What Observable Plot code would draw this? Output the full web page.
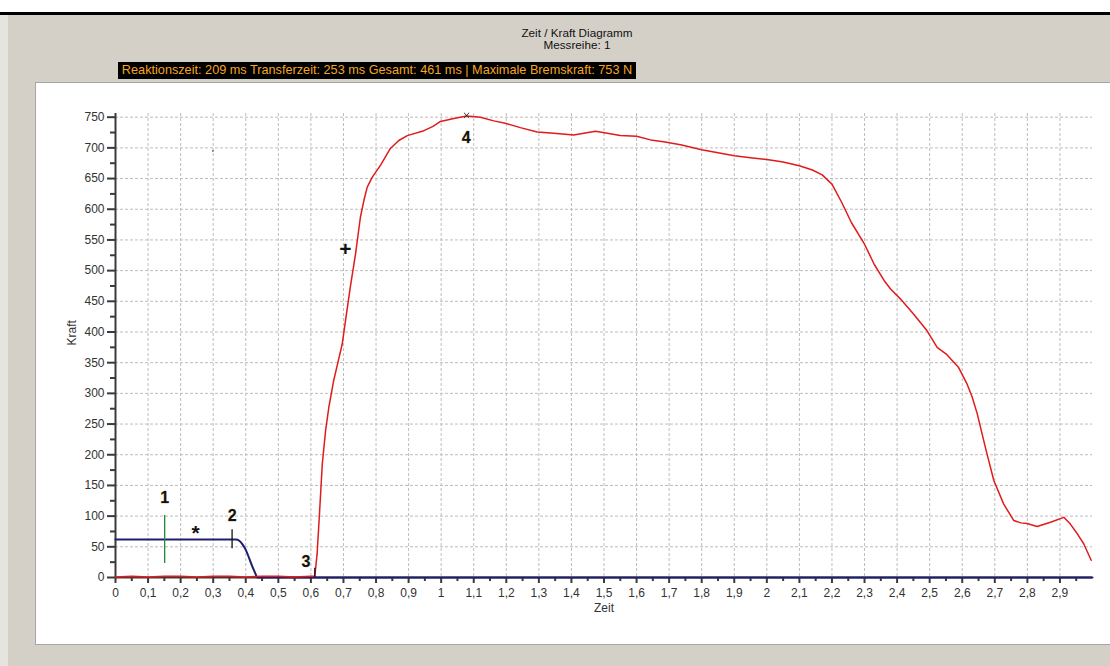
<!DOCTYPE html>
<html><head><meta charset="utf-8">
<script src="https://cdn.jsdelivr.net/npm/d3@7"></script>
<script src="https://cdn.jsdelivr.net/npm/@observablehq/plot@0.6"></script>
<style>
html,body{margin:0;padding:0;width:1110px;height:666px;overflow:hidden;background:#fff;font-family:"Liberation Sans",Arial,sans-serif;}
#bar{position:absolute;left:0;top:12px;width:1110px;height:3px;background:#000;}
#bg{position:absolute;left:8px;top:15px;width:1102px;height:651px;background:#d4d0c8;}
#strip{position:absolute;left:0;top:15px;width:8px;height:651px;background:#e6e4de;}
#title{position:absolute;left:477px;width:200px;top:27px;text-align:center;font-size:11.7px;line-height:12px;color:#111;}
#info{position:absolute;left:118px;top:62px;width:518px;height:17px;background:#000;color:#f5a623;font-size:12.7px;line-height:17px;white-space:nowrap;text-align:center;}
#panel{position:absolute;left:35px;top:82px;width:1075px;height:561px;border-top:1px solid #a6a6a6;border-left:1px solid #a6a6a6;border-bottom:1px solid #a6a6a6;background:#fff;}
#chart{position:absolute;left:36px;top:83px;}
</style></head>
<body>
<div id="bar"></div><div id="strip"></div><div id="bg"></div>
<div id="title">Zeit / Kraft Diagramm<br>Messreihe: 1</div>
<div id="info">Reaktionszeit: 209 ms Transferzeit: 253 ms Gesamt: 461 ms | Maximale Bremskraft: 753 N</div>
<div id="panel"></div>
<div id="chart"></div>
<script>
// Kraft (red) series
const kraftZeit = [0,0.05,0.10,0.15,0.20,0.25,0.30,0.35,0.40,0.45,0.50,0.55,0.60,0.612,0.619,0.627,0.635,0.645,0.655,0.67,0.685,0.696,0.708,0.721,0.737,0.752,0.763,0.773,0.788,0.814,0.844,0.87,0.896,0.947,0.975,0.998,1.039,1.078,1.12,1.162,1.197,1.243,1.295,1.346,1.407,1.438,1.474,1.51,1.55,1.60,1.643,1.683,1.735,1.80,1.85,1.90,1.95,2.00,2.05,2.10,2.14,2.17,2.20,2.23,2.26,2.30,2.33,2.36,2.38,2.41,2.451,2.492,2.523,2.553,2.589,2.615,2.630,2.646,2.671,2.697,2.727,2.758,2.78,2.799,2.83,2.871,2.912,2.932,2.955,2.973,2.996];
const kraftWert = [1,2,1,2,2,1,2,2,1,2,2,1,2,2,38,110,185,239,277,321,355,380,425,473,527,587,615,636,652,672,699,712,720,728,735,743,748,752,750,744,740,733,726,724,721,724,727,724,720,719,713,710,705,697,692,687,684,681,677,671,664,656,641,611,578,543,510,484,470,454,429,402,375,363,342,315,295,267,212,158,120,93,89,88,83,90,98,87,70,55,28];
// Blue series
const blauZeit = [0,0.37,0.38,0.39,0.40,0.41,0.42,0.43,0.435,3.0];
const blauWert = [62,62,60,54,45,32,18,6,0,0];
// Markers / annotations
const markLabel = ["1","2","3","4"];
const markX = [0.151,0.358,0.585,1.077];
const markY = [130,101,25,716];
const symLabel = ["*","+"];
const symX = [0.246,0.706];
const symY = [72,534];
const strichX = [0.151,0.358,0.612];
const strichVon = [23,47,0];
const strichBis = [101,78,15];
const strichFarbe = ["#1f8a3c","#111111","#111111"];
const peakX = [1.078], peakY = [753];
const dotX = [0.299], dotY = [695];
// Ticks
const xMajor = d3.range(0,30).map(i=>i/10);
const xMinor = d3.range(0,30).map(i=>i/10+0.05);
const yMajor = d3.range(0,16).map(i=>i*50);
const yMinor = d3.range(0,15).map(i=>i*50+25);

const kraft = kraftZeit.map((x,i)=>({x, y:kraftWert[i]}));
const blau = blauZeit.map((x,i)=>({x, y:blauWert[i]}));
const marks = markX.map((x,i)=>({x, y:markY[i], t:markLabel[i]}));
const syms = symX.map((x,i)=>({x, y:symY[i], t:symLabel[i]}));
const striche = strichX.map((x,i)=>({x, y1:strichVon[i], y2:strichBis[i], c:strichFarbe[i]}));
const fmt = d => String(Math.round(d*10)/10).replace(".",",");
const axisColor = "#3a3a3a";

const chart = Plot.plot({
  width: 1074, height: 560,
  marginLeft: 79, marginRight: 18, marginTop: 30, marginBottom: 66,
  x: {domain:[0,3], label:null},
  y: {domain:[0,756], label:null},
  style: {background:"white", fontFamily:'"Liberation Sans",Arial,sans-serif', fontSize:"12px", color:"#333"},
  marks: [
    Plot.gridX(xMajor.filter(d=>d>0), {stroke:"#bdbdbd", strokeOpacity:1, strokeDasharray:"3,2"}),
    Plot.gridY(yMajor.filter(d=>d>0), {stroke:"#bdbdbd", strokeOpacity:1, strokeDasharray:"3,2"}),
    Plot.axisY(yMajor, {anchor:"left", tickSize:8, tickPadding:3, strokeWidth:2, stroke:axisColor, fill:"#333"}),
    Plot.axisY(yMinor, {anchor:"left", tickSize:5, strokeWidth:2, stroke:axisColor, tickFormat:()=>""}),
    Plot.axisX(xMajor, {anchor:"bottom", tickSize:6, tickPadding:5, strokeWidth:2, stroke:axisColor, fill:"#333", tickFormat:fmt}),
    Plot.axisX(xMinor, {anchor:"bottom", tickSize:4, strokeWidth:2, stroke:axisColor, tickFormat:()=>""}),
    Plot.ruleX([0], {stroke:axisColor, strokeWidth:2}),
    Plot.ruleY([0], {stroke:axisColor, strokeWidth:2}),
    Plot.text(["Kraft"], {frameAnchor:"left", dx:-43, rotate:-90, fill:"#333"}),
    Plot.text(["Zeit"], {frameAnchor:"bottom", dy:34, fill:"#333"}),
    Plot.line(blau, {x:"x", y:"y", stroke:"#1e1e6e", strokeWidth:2, curve:"monotone-x"}),
    Plot.line(kraft, {x:"x", y:"y", stroke:"#e01b1b", strokeWidth:1.5}),
    Plot.ruleX(striche, {x:"x", y1:"y1", y2:"y2", stroke:"c", strokeWidth:1.3}),
    Plot.dot(peakX.map((x,i)=>({x,y:peakY[i]})), {x:"x", y:"y", symbol:"times", r:2.5, stroke:"#333", strokeWidth:1}),
    Plot.dot(dotX.map((x,i)=>({x,y:dotY[i]})), {x:"x", y:"y", r:0.7, fill:"#000", stroke:null}),
    Plot.text(marks, {x:"x", y:"y", text:"t", fontSize:16, fontWeight:"bold", fill:"#111", stroke:"#c88a20", strokeWidth:0.4}),
    Plot.text(syms, {x:"x", y:"y", text:"t", fontSize:21, fontWeight:"bold", fill:"#111"})
  ]
});
document.getElementById("chart").append(chart);
</script>
</body></html>
